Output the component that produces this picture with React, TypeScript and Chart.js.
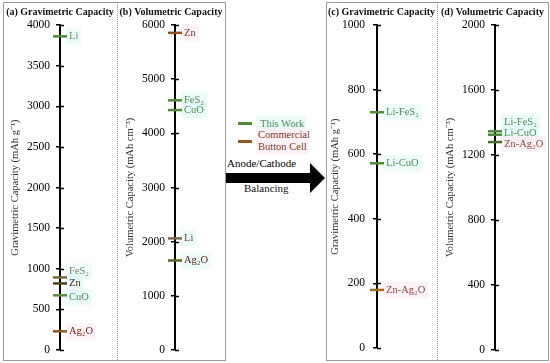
import React, { useEffect, useRef } from 'react';
import { Chart, registerables } from 'chart.js';

Chart.register(...registerables);

const FONT = '"Liberation Serif", "Times New Roman", Times, serif';

// ---------- data ----------
const gravMaterials = ['Li', 'FeS₂', 'Zn', 'CuO', 'Ag₂O'];
const gravCapacity = [3860, 894, 820, 674, 231];
const gravTicks = [0, 500, 1000, 1500, 2000, 2500, 3000, 3500, 4000];

const volMaterials = ['Zn', 'FeS₂', 'CuO', 'Li', 'Ag₂O'];
const volCapacity = [5855, 4610, 4430, 2062, 1654];
const volTicks = [0, 1000, 2000, 3000, 4000, 5000, 6000];

const cellNames = ['Li-FeS₂', 'Li-CuO', 'Zn-Ag₂O'];
const cellGravCapacity = [730, 572, 180];
const cellGravTicks = [0, 200, 400, 600, 800, 1000];
const cellVolCapacity = [1346, 1325, 1280];
const cellVolTicks = [0, 400, 800, 1200, 1600, 2000];

// ---------- styles ----------
const GREEN = '#4f8a3c';
const GREEN_TXT = '#4d8f55';
const BROWN = '#8a5a22';
const BROWN_TXT = '#7e3a26';
const CYAN_BG = 'rgba(220,246,246,0.5)';
const PINK_BG = 'rgba(252,232,242,0.55)';

type PanelDef = {
  title: string;
  yTitle: string;
  left: number;
  width: number;
  axisX: number;
  yTitleCenter: number;
  tickPad: number;
  ticks: number[];
  names: string[];
  values: number[];
  markerColors: string[];
  labelColors: string[];
  labelBgs: string[];
  labelDy: number[];
};

const panels: PanelDef[] = [
  {
    title: '(a) Gravimetric Capacity',
    yTitle: 'Gravimetric Capacity (mAh g⁻¹)',
    left: 4, width: 112, axisX: 56, yTitleCenter: 11, tickPad: 6,
    ticks: gravTicks, names: gravMaterials, values: gravCapacity,
    markerColors: [GREEN, '#7a6a36', '#4e4418', '#5a8a3e', BROWN],
    labelColors: ['#5a9a5a', '#7a8a6a', '#3a2a1a', '#4a8a5a', '#6a2a1a'],
    labelBgs: [CYAN_BG, CYAN_BG, CYAN_BG, CYAN_BG, PINK_BG],
    labelDy: [0, -6, 0, 2, 0],
  },
  {
    title: '(b) Volumetric Capacity',
    yTitle: 'Volumetric Capacity (mAh cm⁻³)',
    left: 118, width: 106, axisX: 57, yTitleCenter: 12, tickPad: 6,
    ticks: volTicks, names: volMaterials, values: volCapacity,
    markerColors: ['#8a5020', GREEN, GREEN, '#7a6a4a', '#5a6a20'],
    labelColors: ['#7a3a20', GREEN_TXT, GREEN_TXT, '#6a4a30', '#5a2a1a'],
    labelBgs: [PINK_BG, CYAN_BG, CYAN_BG, CYAN_BG, CYAN_BG],
    labelDy: [0, 0, 0, 0, 0],
  },
  {
    title: '(c) Gravimetric Capacity',
    yTitle: 'Gravimetric Capacity (mAh g⁻¹)',
    left: 327, width: 109, axisX: 50, yTitleCenter: 8, tickPad: 8,
    ticks: cellGravTicks, names: cellNames, values: cellGravCapacity,
    markerColors: [GREEN, GREEN, '#a06a20'],
    labelColors: [GREEN_TXT, GREEN_TXT, '#8a4a3a'],
    labelBgs: [CYAN_BG, CYAN_BG, PINK_BG],
    labelDy: [0, 0, 0],
  },
  {
    title: '(d) Volumetric Capacity',
    yTitle: 'Volumetric Capacity (mAh cm⁻³)',
    left: 438, width: 109, axisX: 57, yTitleCenter: 12, tickPad: 6,
    ticks: cellVolTicks, names: cellNames, values: cellVolCapacity,
    markerColors: [GREEN, GREEN, '#4a6a2a'],
    labelColors: [GREEN_TXT, GREEN_TXT, '#8a4a3a'],
    labelBgs: [CYAN_BG, CYAN_BG, PINK_BG],
    labelDy: [-9, -1, 2],
  },
];

function PanelChart({ p }: { p: PanelDef }) {
  const ref = useRef<HTMLCanvasElement | null>(null);
  useEffect(() => {
    if (!ref.current) return;
    const labelFont = `10.5px ${FONT}`;
    const panelPlugin = {
      id: 'panelDeco',
      beforeDraw(chart: any) {
        const ctx = chart.ctx;
        const ys = chart.scales.y;
        const xs = chart.scales.x;
        ctx.save();
        ctx.font = labelFont;
        p.values.forEach((v, i) => {
          const x = xs.getPixelForValue(0) + 8;
          const y = ys.getPixelForValue(v) + p.labelDy[i];
          const w = ctx.measureText(p.names[i]).width;
          ctx.fillStyle = p.labelBgs[i];
          ctx.fillRect(x - 2, y - 8, w + 6, 16);
        });
        ctx.restore();
      },
      afterDraw(chart: any) {
        const ctx = chart.ctx;
        const ys = chart.scales.y;
        const xs = chart.scales.x;
        const ax = xs.getPixelForValue(0);
        ctx.save();
        ctx.strokeStyle = '#000';
        ctx.lineWidth = 1.5;
        ys.ticks.forEach((t: any) => {
          const y = Math.round(ys.getPixelForValue(t.value)) + 0.5;
          ctx.beginPath();
          ctx.moveTo(ax, y);
          ctx.lineTo(ax + 4, y);
          ctx.stroke();
        });
        ctx.fillStyle = '#111';
        ctx.font = `bold 10px ${FONT}`;
        ctx.textAlign = 'center';
        ctx.textBaseline = 'middle';
        ctx.fillText(p.title, chart.width / 2, 12);
        ctx.font = labelFont;
        ctx.textAlign = 'left';
        p.values.forEach((v, i) => {
          ctx.fillStyle = p.labelColors[i];
          ctx.fillText(p.names[i], ax + 9, ys.getPixelForValue(v) + p.labelDy[i]);
        });
        ctx.restore();
      },
    };
    const chart = new Chart(ref.current, {
      type: 'scatter',
      data: {
        datasets: [
          {
            data: p.values.map((v) => ({ x: 0, y: v })),
            pointStyle: 'line',
            pointRadius: 7,
            pointHoverRadius: 7,
            pointBorderWidth: 2.5,
            pointBorderColor: p.markerColors,
            pointBackgroundColor: p.markerColors,
            showLine: false,
            clip: false,
          } as any,
        ],
      },
      options: {
        animation: false,
        responsive: false,
        maintainAspectRatio: false,
        events: [],
        layout: { padding: { top: 25, bottom: 10, left: 0, right: 0 } },
        plugins: {
          legend: { display: false },
          tooltip: { enabled: false },
          title: { display: false },
        },
        scales: {
          x: { type: 'linear', min: 0, max: 1, display: false },
          y: {
            type: 'linear',
            min: 0,
            max: p.ticks[p.ticks.length - 1],
            afterBuildTicks: (s: any) => {
              s.ticks = p.ticks.map((v) => ({ value: v }));
            },
            afterFit: (s: any) => {
              s.width = p.axisX;
            },
            ticks: {
              font: { family: FONT, size: 11.5 },
              color: '#000',
              padding: p.tickPad,
              callback: (v: any) => String(v),
            },
            grid: {
              drawOnChartArea: false,
              drawTicks: true,
              tickLength: 4,
              color: '#000',
              lineWidth: 1.5,
            },
            border: { display: true, color: '#000', width: 2 },
            title: {
              display: true,
              text: p.yTitle,
              font: { family: FONT, size: 10.5 },
              color: '#333',
              padding: { top: p.yTitleCenter - 6, bottom: 0 },
            },
          },
        },
      } as any,
      plugins: [panelPlugin],
    });
    return () => chart.destroy();
  }, [p]);
  return (
    <canvas
      ref={ref}
      width={p.width}
      height={363}
      style={{ position: 'absolute', left: p.left, top: 0, width: p.width, height: 363 }}
    />
  );
}

const txt = (left: number, cy: number, size: number, color: string, text: string) => (
  <div
    style={{
      position: 'absolute',
      left,
      top: cy - size * 0.55,
      fontFamily: FONT,
      fontSize: size,
      lineHeight: 1.1,
      color,
      whiteSpace: 'nowrap',
    }}
  >
    {text}
  </div>
);

export default function App() {
  const border = '#9a9a9a';
  return (
    <div style={{ position: 'fixed', left: 0, top: 0, width: 550, height: 363, background: '#fff', overflow: 'hidden' }}>
      {panels.map((p, i) => (
        <PanelChart key={i} p={p} />
      ))}
      <div style={{ position: 'absolute', left: 3, top: 2, width: 221, height: 357, border: `1px solid ${border}` }} />
      <div style={{ position: 'absolute', left: 117, top: 3, height: 357, borderLeft: `1px dotted ${border}` }} />
      <div style={{ position: 'absolute', left: 326, top: 2, width: 221, height: 357, border: `1px solid ${border}` }} />
      <div style={{ position: 'absolute', left: 437, top: 3, height: 357, borderLeft: `1px dotted ${border}` }} />
      <div style={{ position: 'absolute', left: 256, top: 116, width: 50, height: 16, background: CYAN_BG }} />
      <div style={{ position: 'absolute', left: 256, top: 128, width: 52, height: 26, background: PINK_BG }} />
      <div style={{ position: 'absolute', left: 238, top: 122, width: 14, height: 3, background: GREEN }} />
      <div style={{ position: 'absolute', left: 238, top: 140, width: 14, height: 3, background: BROWN }} />
      {txt(260, 124, 10.5, GREEN_TXT, 'This Work')}
      {txt(258, 135, 10.5, BROWN_TXT, 'Commercial')}
      {txt(258, 147, 10.5, BROWN_TXT, 'Button Cell')}
      {txt(227, 163, 11, '#000', 'Anode/Cathode')}
      {txt(244, 188, 11, '#111', 'Balancing')}
      <svg style={{ position: 'absolute', left: 0, top: 0 }} width={550} height={363}>
        <rect x={226} y={173} width={86} height={10} fill="#000" />
        <polygon points="310,163 325,178 310,193" fill="#000" />
      </svg>
    </div>
  );
}
